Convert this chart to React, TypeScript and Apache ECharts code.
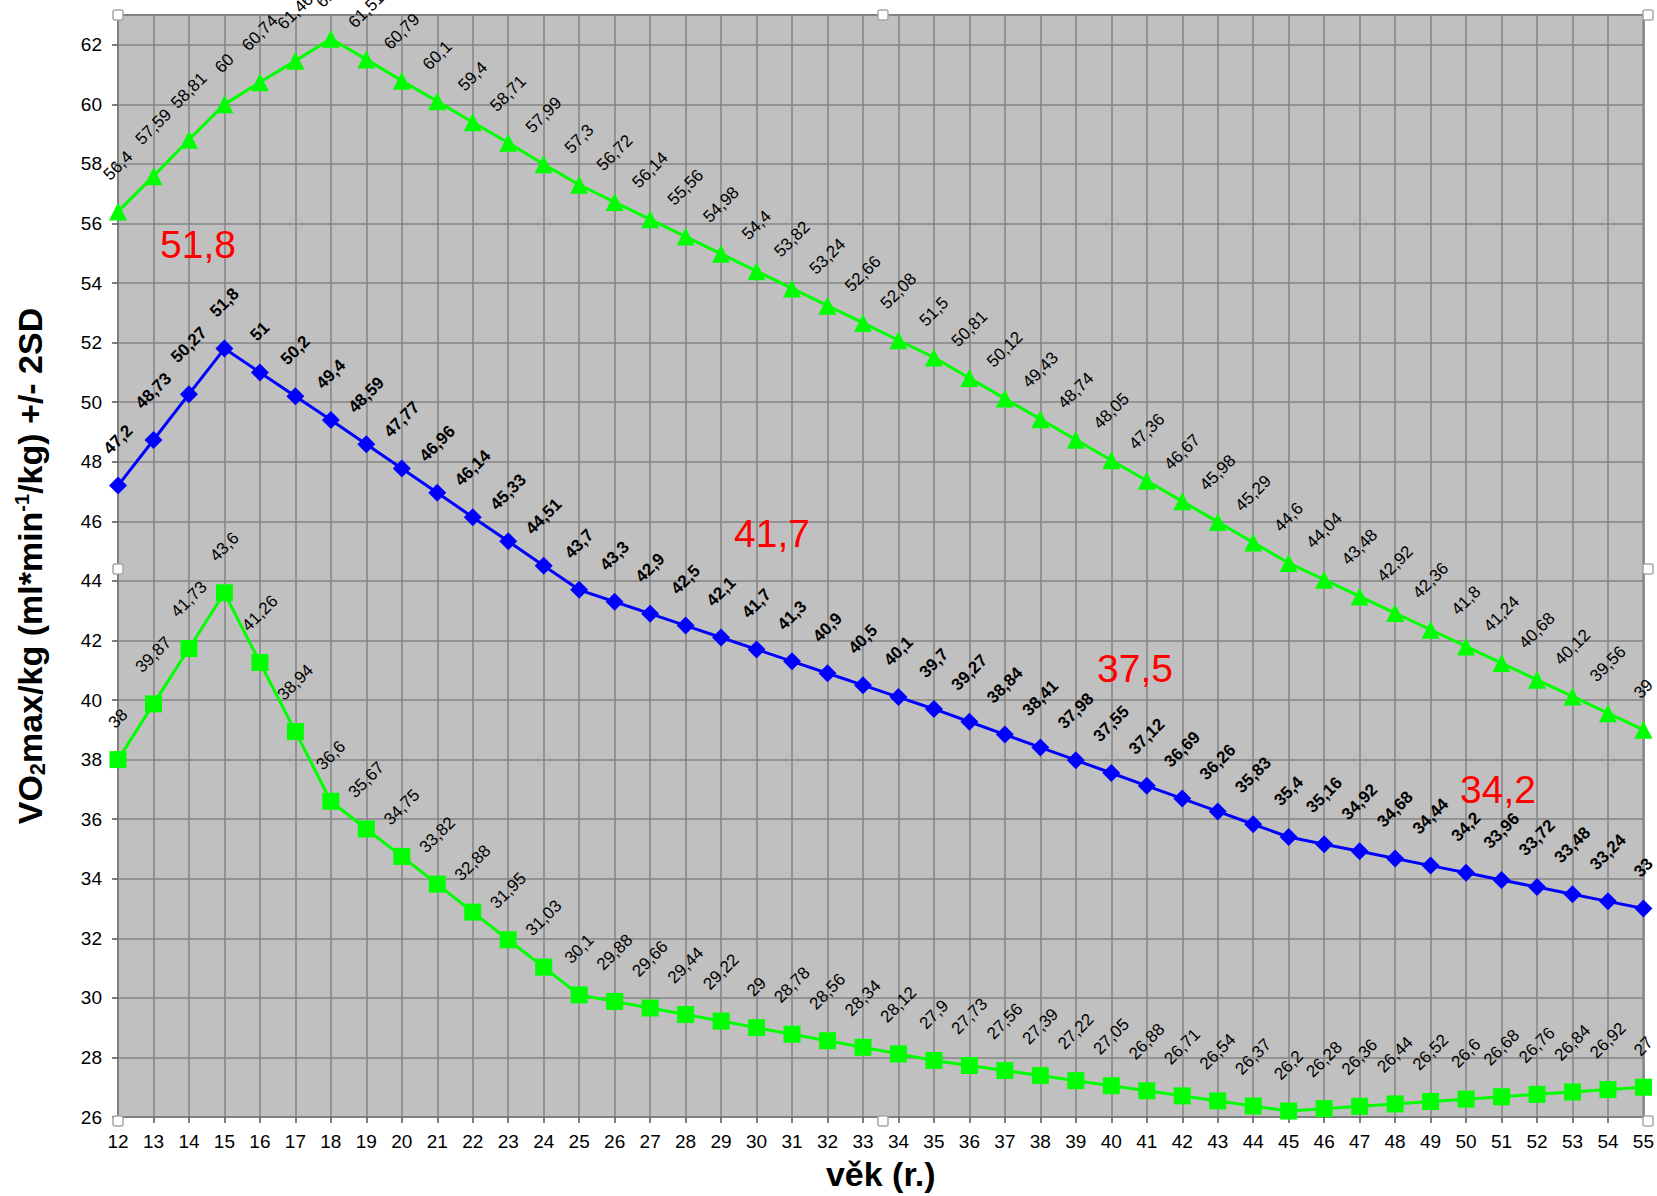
import React, { useEffect, useRef } from "react";
import * as echarts from "echarts";

const ages = [
  "12", "13", "14", "15", "16", "17", "18", "19", "20", "21", "22", "23", "24", "25", "26",
  "27", "28", "29", "30", "31", "32", "33", "34", "35", "36", "37", "38", "39", "40", "41",
  "42", "43", "44", "45", "46", "47", "48", "49", "50", "51", "52", "53", "54", "55",
];

const upperSD = [
  56.4, 57.59, 58.81, 60, 60.74, 61.46, 62.2, 61.51, 60.79, 60.1, 59.4, 58.71, 57.99, 57.3,
  56.72, 56.14, 55.56, 54.98, 54.4, 53.82, 53.24, 52.66, 52.08, 51.5, 50.81, 50.12, 49.43,
  48.74, 48.05, 47.36, 46.67, 45.98, 45.29, 44.6, 44.04, 43.48, 42.92, 42.36, 41.8, 41.24,
  40.68, 40.12, 39.56, 39,
];

const meanValues = [
  47.2, 48.73, 50.27, 51.8, 51, 50.2, 49.4, 48.59, 47.77, 46.96, 46.14, 45.33, 44.51, 43.7,
  43.3, 42.9, 42.5, 42.1, 41.7, 41.3, 40.9, 40.5, 40.1, 39.7, 39.27, 38.84, 38.41, 37.98,
  37.55, 37.12, 36.69, 36.26, 35.83, 35.4, 35.16, 34.92, 34.68, 34.44, 34.2, 33.96, 33.72,
  33.48, 33.24, 33,
];

const lowerSD = [
  38, 39.87, 41.73, 43.6, 41.26, 38.94, 36.6, 35.67, 34.75, 33.82, 32.88, 31.95, 31.03, 30.1,
  29.88, 29.66, 29.44, 29.22, 29, 28.78, 28.56, 28.34, 28.12, 27.9, 27.73, 27.56, 27.39, 27.22,
  27.05, 26.88, 26.71, 26.54, 26.37, 26.2, 26.28, 26.36, 26.44, 26.52, 26.6, 26.68, 26.76,
  26.84, 26.92, 27,
];

const yMin = 26;
const yMax = 63;
const yInterval = 2;

const annotationTexts = ["51,8", "41,7", "37,5", "34,2"];

const FONT = "'Liberation Sans', Arial, sans-serif";
const LABEL_SIZE = 17;

const fmt = (v: number) => String(v).replace(".", ",");

function labelDistance(v: number, symbolSize: number) {
  const s = fmt(v);
  let w = 0;
  for (const ch of s) w += ch === "," ? 0.278 : 0.556;
  const L = w * LABEL_SIZE;
  const halfBox = (L + 0.7 * LABEL_SIZE) / (2 * Math.SQRT2);
  return 30 + halfBox - symbolSize / 2;
}

function buildData(values: number[], symbolSize: number) {
  return values.map((v) => ({
    value: v,
    label: { distance: labelDistance(v, symbolSize) },
  }));
}

export default function App() {
  const ref = useRef<HTMLDivElement>(null);

  useEffect(() => {
    if (!ref.current) return;
    const chart = echarts.init(ref.current, null, { renderer: "svg" });

    const labelBase = {
      show: true,
      position: "top",
      rotate: 45,
      align: "center",
      verticalAlign: "middle",
      fontFamily: FONT,
      fontSize: LABEL_SIZE,
      color: "#000",
      formatter: (p: any) => fmt(p.value),
    };

    const annPos = [
      [198, 244],
      [772, 533],
      [1135, 668],
      [1498, 789],
    ];

    const handlePos = [
      [118, 15],
      [883, 15],
      [1648, 15],
      [118, 569],
      [1648, 569],
      [118, 1121],
      [883, 1121],
      [1648, 1121],
    ];

    const graphics: any[] = [];
    annotationTexts.forEach((t, i) => {
      graphics.push({
        type: "text",
        x: annPos[i][0],
        y: annPos[i][1],
        z: 100,
        style: {
          text: t,
          fill: "#ff0000",
          fontFamily: FONT,
          fontSize: 39,
          textAlign: "center",
          textVerticalAlign: "middle",
        },
      });
    });
    handlePos.forEach(([x, y]) => {
      graphics.push({
        type: "rect",
        x: x - 5,
        y: y - 5,
        z: 100,
        shape: { x: 0, y: 0, width: 10, height: 10, r: 2 },
        style: { fill: "#ffffff", stroke: "#a8a8a8", lineWidth: 1.5 },
      });
    });

    const option: any = {
      animation: false,
      backgroundColor: "#ffffff",
      grid: {
        left: 118,
        right: 9,
        top: 15,
        bottom: 75,
        show: true,
        backgroundColor: "#c0c0c0",
        borderColor: "#808080",
        borderWidth: 2,
      },
      xAxis: {
        type: "category",
        data: ages,
        boundaryGap: false,
        name: "věk (r.)",
        nameLocation: "middle",
        nameGap: 40,
        nameTextStyle: {
          fontFamily: FONT,
          fontSize: 34,
          fontWeight: "bold",
          color: "#000",
        },
        axisLine: { show: true, lineStyle: { color: "#808080", width: 2 } },
        axisTick: {
          show: true,
          interval: 0,
          length: 6,
          lineStyle: { color: "#555", width: 1.5 },
        },
        axisLabel: {
          interval: 0,
          fontFamily: FONT,
          fontSize: 19,
          color: "#000",
          margin: 15,
        },
        splitLine: {
          show: true,
          interval: 0,
          lineStyle: { color: "#858585", width: 1.5 },
        },
      },
      yAxis: {
        type: "value",
        min: yMin,
        max: yMax,
        interval: yInterval,
        name: "{a|VO}{sub|2}{a|max/kg (ml*min}{sup|-1}{a|/kg) +/- 2SD}",
        nameLocation: "middle",
        nameRotate: 90,
        nameGap: 70,
        nameTextStyle: {
          fontFamily: FONT,
          fontSize: 34,
          fontWeight: "bold",
          color: "#000",
          rich: {
            a: {
              fontFamily: FONT,
              fontSize: 34,
              fontWeight: "bold",
              color: "#000",
              lineHeight: 36,
            },
            sub: {
              fontFamily: FONT,
              fontSize: 22,
              fontWeight: "bold",
              color: "#000",
              lineHeight: 14,
              verticalAlign: "bottom",
            },
            sup: {
              fontFamily: FONT,
              fontSize: 20,
              fontWeight: "bold",
              color: "#000",
              lineHeight: 14,
              verticalAlign: "top",
            },
          },
        },
        axisLine: { show: true, lineStyle: { color: "#808080", width: 2 } },
        axisTick: {
          show: true,
          length: 6,
          lineStyle: { color: "#555", width: 1.5 },
        },
        axisLabel: {
          fontFamily: FONT,
          fontSize: 19,
          color: "#000",
          margin: 16,
          showMaxLabel: false,
        },
        splitLine: {
          show: true,
          lineStyle: { color: "#858585", width: 1.5 },
        },
      },
      series: [
        {
          name: "+2SD",
          type: "line",
          data: buildData(upperSD, 18),
          symbol: "triangle",
          symbolSize: 18,
          showAllSymbol: true,
          lineStyle: { color: "#00ff00", width: 3 },
          itemStyle: { color: "#00ff00" },
          label: { ...labelBase },
          z: 3,
        },
        {
          name: "mean",
          type: "line",
          data: buildData(meanValues, 18),
          symbol: "diamond",
          symbolSize: 18,
          showAllSymbol: true,
          lineStyle: { color: "#0000ff", width: 3 },
          itemStyle: { color: "#0000ff" },
          label: { ...labelBase, fontWeight: "bold" },
          z: 4,
        },
        {
          name: "-2SD",
          type: "line",
          data: buildData(lowerSD, 17),
          symbol: "rect",
          symbolSize: 17,
          showAllSymbol: true,
          lineStyle: { color: "#00ff00", width: 3 },
          itemStyle: { color: "#00ff00" },
          label: { ...labelBase },
          z: 5,
        },
      ],
      graphic: graphics,
    };

    chart.setOption(option);
    return () => chart.dispose();
  }, []);

  return (
    <div
      ref={ref}
      style={{ position: "absolute", left: 0, top: 0, width: 1657, height: 1196 }}
    />
  );
}
